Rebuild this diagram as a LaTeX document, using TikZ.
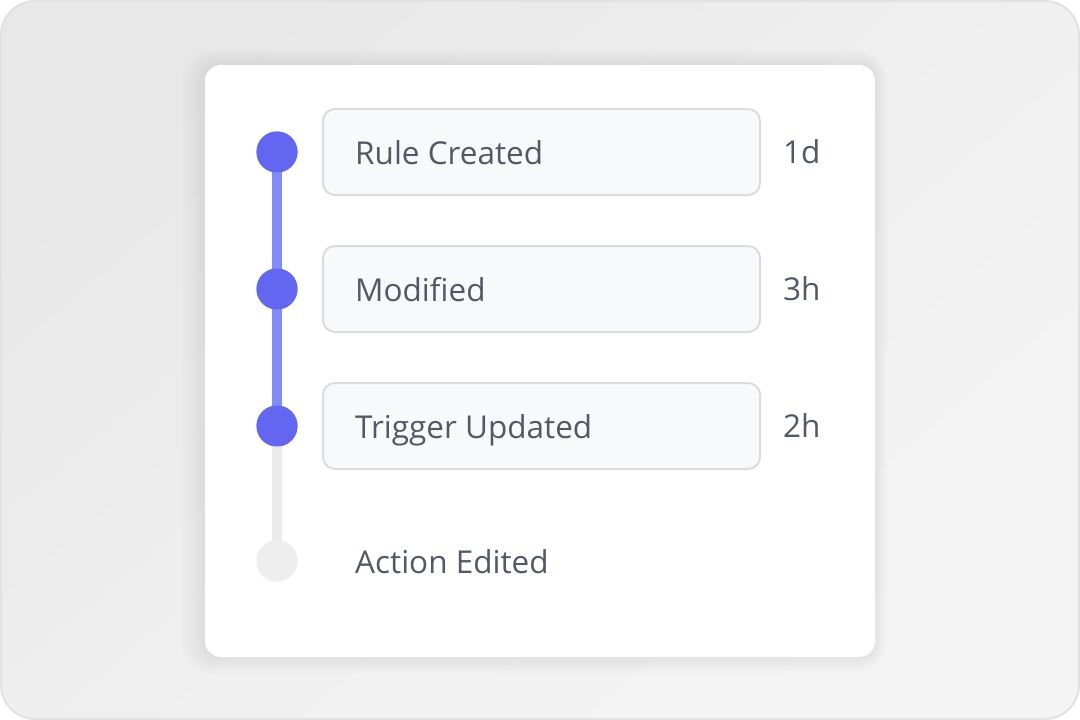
\documentclass[tikz,border=0pt]{standalone}
\usepackage{fontspec}
\setmainfont{Open Sans}
\definecolor{bgfill}{HTML}{F4F4F4}
\definecolor{bgdark}{HTML}{E8E8E8}
\definecolor{bgline}{HTML}{E2E2E2}
\definecolor{indigo}{HTML}{6366F1}
\definecolor{indigolight}{HTML}{818CF8}
\definecolor{railgray}{HTML}{EBEBEB}
\definecolor{dotgray}{HTML}{EEEEEE}
\definecolor{boxfill}{HTML}{F8F9FB}
\definecolor{boxline}{HTML}{DCDCDC}
\definecolor{txt}{HTML}{525866}
\tikzset{
  x=1pt,y=-1pt,
  eventbox/.style={draw=boxline, line width=2pt, fill=boxfill, rounded corners=12pt,
    minimum width=437pt, minimum height=86pt, inner sep=0pt, anchor=west},
  label/.style={font=\fontsize{31.5}{36}\selectfont, text=txt, anchor=base west, inner sep=0pt},
  dotdone/.style={circle, fill=indigo, minimum size=41pt, inner sep=0pt},
  dotnext/.style={circle, fill=dotgray, minimum size=41pt, inner sep=0pt},
}
\begin{document}
\begin{tikzpicture}
\useasboundingbox (0,0) rectangle (1080,720);
% outer frame
\shade[rounded corners=34pt, top color=bgdark, bottom color=bgfill, middle color=bgfill!60!bgdark, shading angle=40] (1,1) rectangle (1079,719);
\draw[bgline, line width=2pt, rounded corners=34pt] (1,1) rectangle (1079,719);
% card shadow and card
\foreach \i in {1,...,8}{
  \fill[black, opacity=0.008, rounded corners={16+2*\i}] ({205-3*\i},{65-2*\i}) rectangle ({875+1.5*\i},{657+2*\i});
}
\fill[white, rounded corners=16pt] (205,65) rectangle (875,657);
% rails
\node[dotdone] (d1) at (277,152) {};
\node[dotdone] (d2) at (277,289) {};
\node[dotdone] (d3) at (277,426) {};
\node[dotnext] (d4) at (277,561) {};
\draw[railgray, line width=10pt] (d3.center) -- (d4.center);
\draw[indigolight, line width=10pt] (d1.center) -- (d2.center) -- (d3.center);
\node[dotdone] at (d1) {};
\node[dotdone] at (d2) {};
\node[dotdone] at (d3) {};
\node[dotnext] at (d4) {};
% boxes
\node[eventbox] (b1) at (322,152) {};
\node[eventbox] (b2) at (322,289) {};
\node[eventbox] (b3) at (322,426) {};
\node[label] (t1) at (355,164) {Rule Created};
\node[label] (t2) at (355,301) {Modified};
\node[label] (t3) at (355,438) {Trigger Updated};
\node[label] (t4) at (355,573) {Action Edited};
\node[label] (s1) at (783,163.5) {1d};
\node[label] (s2) at (783,300.5) {3h};
\node[label] (s3) at (783,437.5) {2h};
\end{tikzpicture}
\end{document}
